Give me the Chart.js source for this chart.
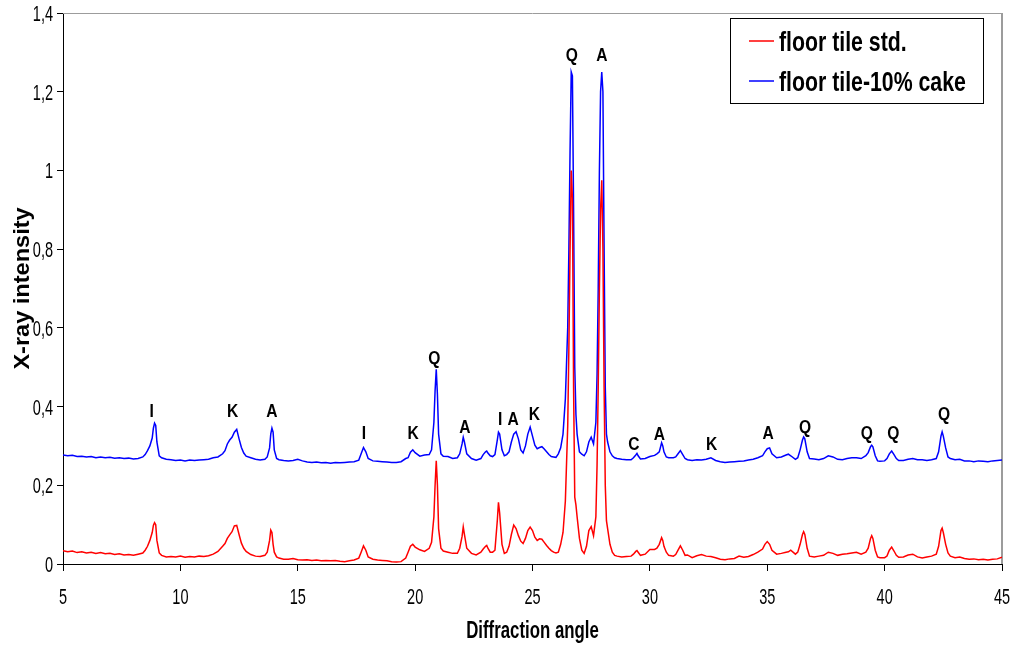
<!DOCTYPE html>
<html>
<head>
<meta charset="utf-8">
<title>XRD floor tile</title>
<script src="https://cdn.jsdelivr.net/npm/chart.js@4.4.1/dist/chart.umd.min.js"></script>
<style>
  html, body { margin: 0; padding: 0; background: #fff; }
  canvas { display: block; }
</style>
</head>
<body>
<canvas id="xrdChart" width="1016" height="651"></canvas>
<script>
// diffraction angle (2 theta), shared by both patterns
const angles = [
  5.0, 5.2, 5.4, 5.6, 5.8, 6.0, 6.2, 6.4, 6.6, 6.8, 7.0, 7.2, 7.4, 7.6, 7.8, 8.0, 8.2, 8.4,
  8.5, 8.6, 8.7, 8.8, 8.85, 8.9, 8.95, 9.0, 9.1, 9.2, 9.4,
  9.6, 9.8, 10.0, 10.2, 10.4, 10.6, 10.8, 11.0, 11.2, 11.4,
  11.6, 11.8, 11.9, 12.0, 12.1, 12.2, 12.3, 12.4, 12.5, 12.6, 12.7, 12.8, 13.0, 13.2, 13.4, 13.6,
  13.7, 13.8, 13.85, 13.9, 13.95, 14.0, 14.1, 14.2, 14.4,
  14.6, 14.8, 15.0, 15.2, 15.4, 15.6, 15.8, 16.0, 16.2, 16.4, 16.6, 16.8, 17.0, 17.2, 17.4,
  17.6, 17.7, 17.8, 17.9, 18.0, 18.2, 18.4,
  18.6, 18.8, 19.0, 19.2, 19.4, 19.6,
  19.7, 19.8, 19.9, 20.0, 20.2, 20.4, 20.6, 20.7, 20.8, 20.85, 20.9, 20.95, 21.0, 21.1, 21.2, 21.4,
  21.6, 21.8, 21.9, 22.0, 22.05, 22.1, 22.2, 22.4, 22.6, 22.8, 22.9, 23.0, 23.05, 23.1, 23.2, 23.3, 23.4, 23.5, 23.55, 23.6, 23.7, 23.8,
  23.9, 24.0, 24.1, 24.2, 24.3, 24.4, 24.5, 24.6, 24.7, 24.8, 24.9, 25.0, 25.1, 25.2, 25.3, 25.4, 25.5, 25.6, 25.7, 25.8, 25.9, 26.0,
  26.1, 26.2, 26.3, 26.4, 26.5, 26.55, 26.6, 26.65, 26.7, 26.75, 26.8, 26.85, 26.9, 27.0, 27.1, 27.2, 27.3, 27.4,
  27.5, 27.6, 27.7, 27.75, 27.8, 27.85, 27.9, 27.95, 28.0, 28.05, 28.1, 28.15, 28.2, 28.3, 28.4, 28.5, 28.6, 28.8,
  29.0, 29.2, 29.3, 29.4, 29.45, 29.5, 29.6, 29.8, 30.0, 30.2, 30.3, 30.4, 30.5, 30.55, 30.6, 30.7, 30.8, 31.0, 31.1, 31.2, 31.3, 31.4, 31.5, 31.6, 31.8,
  32.0, 32.2, 32.4, 32.6, 32.8, 33.0, 33.2, 33.4, 33.6, 33.8, 34.0, 34.2, 34.4,
  34.6, 34.8, 34.9, 35.0, 35.1, 35.2, 35.4, 35.6, 35.8, 35.9, 36.0, 36.2, 36.3, 36.4, 36.5, 36.55, 36.6, 36.7, 36.8, 37.0,
  37.2, 37.4, 37.6, 37.8, 38.0, 38.2, 38.4, 38.6, 38.8, 39.0, 39.2,
  39.3, 39.4, 39.45, 39.5, 39.6, 39.7, 39.8, 40.0, 40.1, 40.2, 40.3, 40.4, 40.5, 40.6,
  40.8, 41.0, 41.2, 41.4, 41.6, 41.8, 42.0, 42.2,
  42.3, 42.4, 42.45, 42.5, 42.6, 42.7, 42.8, 43.0, 43.2, 43.4, 43.6, 43.8, 44.0, 44.2, 44.4, 44.6, 44.8, 45.0
];

// floor tile std.
const stdIntensity = [
  0.034, 0.031, 0.033, 0.029, 0.031, 0.028, 0.030, 0.027, 0.029, 0.026, 0.027, 0.024, 0.026, 0.023, 0.024, 0.022, 0.025, 0.028,
  0.035, 0.045, 0.06, 0.08, 0.098, 0.105, 0.10, 0.06, 0.028, 0.022, 0.018,
  0.019, 0.018, 0.020, 0.017, 0.019, 0.018, 0.020, 0.019, 0.021, 0.025,
  0.032, 0.045, 0.052, 0.065, 0.074, 0.082, 0.097, 0.098, 0.075, 0.053, 0.04, 0.032, 0.024, 0.02, 0.019, 0.022,
  0.03, 0.06, 0.086, 0.08, 0.05, 0.03, 0.018, 0.015, 0.012,
  0.012, 0.014, 0.011, 0.010, 0.011, 0.009, 0.010, 0.008, 0.009, 0.008, 0.009, 0.007, 0.006, 0.008, 0.010,
  0.015, 0.03, 0.046, 0.035, 0.018, 0.012, 0.01,
  0.009, 0.008, 0.006, 0.005, 0.006, 0.015,
  0.03, 0.045, 0.05, 0.043, 0.036, 0.032, 0.04, 0.055, 0.12, 0.2, 0.262, 0.2, 0.09, 0.04, 0.033, 0.03,
  0.027, 0.027, 0.04, 0.07, 0.094, 0.075, 0.04, 0.027, 0.023, 0.03, 0.038, 0.045, 0.047, 0.04, 0.03, 0.03, 0.035, 0.11, 0.157, 0.13, 0.05, 0.027,
  0.03, 0.045, 0.075, 0.099, 0.09, 0.072, 0.058, 0.052, 0.065, 0.085, 0.094, 0.085, 0.068, 0.06, 0.064, 0.063, 0.055, 0.047, 0.04, 0.034, 0.03, 0.028,
  0.03, 0.05, 0.08, 0.16, 0.35, 0.55, 0.8, 1.0, 0.93, 0.45, 0.17, 0.15, 0.12, 0.065, 0.035, 0.027, 0.045, 0.085,
  0.095, 0.072, 0.12, 0.25, 0.45, 0.7, 0.9, 0.975, 0.8, 0.45, 0.2, 0.11, 0.09, 0.05, 0.03, 0.022, 0.02, 0.018,
  0.019, 0.02, 0.025, 0.032, 0.034, 0.03, 0.022, 0.025, 0.037, 0.037, 0.04, 0.05, 0.067, 0.06, 0.045, 0.03, 0.022, 0.02, 0.024, 0.035, 0.046, 0.035, 0.022, 0.023, 0.016,
  0.021, 0.024, 0.02, 0.019, 0.016, 0.012, 0.011, 0.013, 0.014, 0.02, 0.017, 0.019, 0.024,
  0.03, 0.038, 0.05, 0.057, 0.05, 0.035, 0.025, 0.027, 0.03, 0.031, 0.035, 0.025, 0.03, 0.05, 0.075, 0.082, 0.075, 0.04, 0.02, 0.018,
  0.02, 0.022, 0.03, 0.027, 0.022, 0.025, 0.026, 0.028, 0.03, 0.025, 0.03,
  0.04, 0.065, 0.072, 0.065, 0.035, 0.018, 0.016, 0.016, 0.02, 0.035, 0.043, 0.033, 0.022, 0.017,
  0.018, 0.023, 0.025, 0.018, 0.015, 0.018, 0.02, 0.025,
  0.045, 0.085, 0.091, 0.08, 0.05, 0.028, 0.02, 0.016, 0.018, 0.014, 0.012, 0.013, 0.011, 0.012, 0.01, 0.012, 0.013, 0.017
];

// floor tile-10% cake
const cakeIntensity = [
  0.277, 0.275, 0.276, 0.273, 0.274, 0.272, 0.273, 0.270, 0.272, 0.270, 0.271, 0.269, 0.270, 0.268, 0.269, 0.267, 0.268, 0.272,
  0.278, 0.288, 0.30, 0.32, 0.345, 0.358, 0.352, 0.31, 0.275, 0.27, 0.266,
  0.265, 0.263, 0.264, 0.262, 0.264, 0.263, 0.264, 0.265, 0.266, 0.270,
  0.272, 0.28, 0.288, 0.305, 0.315, 0.322, 0.335, 0.342, 0.318, 0.296, 0.282, 0.274, 0.27, 0.266, 0.264, 0.266,
  0.272, 0.295, 0.33, 0.345, 0.335, 0.29, 0.268, 0.265, 0.263,
  0.262, 0.263, 0.266, 0.262, 0.259, 0.258, 0.259, 0.257, 0.258, 0.256, 0.258, 0.257, 0.258, 0.259, 0.260,
  0.264, 0.28, 0.296, 0.285, 0.268, 0.262, 0.261,
  0.26, 0.259, 0.258, 0.258, 0.26, 0.268,
  0.27, 0.284, 0.29, 0.283, 0.274, 0.277, 0.278, 0.29, 0.36, 0.44, 0.495, 0.43, 0.33, 0.28, 0.274, 0.273,
  0.268, 0.27, 0.28, 0.305, 0.322, 0.31, 0.28, 0.268, 0.264, 0.268, 0.278, 0.285, 0.287, 0.282, 0.275, 0.273, 0.278, 0.315, 0.335, 0.33, 0.29, 0.275,
  0.278, 0.285, 0.31, 0.33, 0.336, 0.318, 0.29, 0.282, 0.3, 0.33, 0.348, 0.325, 0.302, 0.293, 0.296, 0.298, 0.292, 0.285, 0.278, 0.273, 0.272, 0.271,
  0.28, 0.295, 0.33, 0.42, 0.6, 0.8, 1.05, 1.25, 1.24, 0.9, 0.5, 0.38, 0.33, 0.285, 0.279, 0.275, 0.285, 0.31,
  0.322, 0.305, 0.36, 0.48, 0.7, 1.0, 1.2, 1.25, 1.2, 0.8, 0.45, 0.33, 0.31, 0.285, 0.275, 0.27, 0.268, 0.266,
  0.265, 0.265, 0.27, 0.277, 0.281, 0.275, 0.267, 0.268, 0.273, 0.276, 0.28, 0.285, 0.308, 0.3, 0.285, 0.272, 0.27, 0.27, 0.272, 0.28, 0.288, 0.278, 0.268, 0.265, 0.263,
  0.265, 0.264, 0.266, 0.27, 0.263, 0.26, 0.258, 0.259, 0.26, 0.261, 0.262, 0.264, 0.266,
  0.27, 0.275, 0.285, 0.293, 0.295, 0.28, 0.27, 0.272, 0.277, 0.279, 0.275, 0.266, 0.27, 0.29, 0.315, 0.323, 0.318, 0.285, 0.268, 0.267,
  0.265, 0.268, 0.275, 0.272, 0.266, 0.265, 0.268, 0.27, 0.27, 0.268, 0.275,
  0.283, 0.298, 0.302, 0.298, 0.275, 0.262, 0.261, 0.262, 0.268, 0.28, 0.287, 0.278, 0.268, 0.263,
  0.263, 0.266, 0.268, 0.265, 0.265, 0.263, 0.265, 0.268,
  0.285, 0.325, 0.336, 0.325, 0.295, 0.272, 0.268, 0.265, 0.266, 0.262, 0.262, 0.26, 0.262, 0.261, 0.26, 0.262, 0.263, 0.264
];

const xTicks = [5, 10, 15, 20, 25, 30, 35, 40, 45];
const yTicks = [0, 0.2, 0.4, 0.6, 0.8, 1, 1.2, 1.4];

// phase letters over the peaks (I, K, A, Q, C)
const peakNames  = ['I', 'K', 'A', 'I', 'K', 'Q', 'A', 'I', 'A', 'K', 'Q', 'A', 'C', 'A', 'K', 'A', 'Q', 'Q', 'Q', 'Q'];
const peakAngles = [8.78, 12.23, 13.9, 17.82, 19.92, 20.82, 22.12, 23.62, 24.18, 25.08, 26.67, 27.95, 29.32, 30.4, 32.63, 35.04, 36.61, 39.24, 40.37, 42.53];
const peakLevels = [0.391, 0.391, 0.391, 0.336, 0.335, 0.525, 0.351, 0.372, 0.37, 0.384, 1.296, 1.296, 0.308, 0.334, 0.308, 0.336, 0.351, 0.336, 0.336, 0.383];

const seriesNames  = ['floor tile std.', 'floor tile-10% cake'];
const seriesColors = ['#ff0000', '#0000ff'];

if (angles.length !== stdIntensity.length || angles.length !== cakeIntensity.length) {
  console.error('length mismatch', angles.length, stdIntensity.length, cakeIntensity.length);
}

const FONT = '"Liberation Sans", Arial, Helvetica, sans-serif';

// the original figure uses tall, squeezed lettering, so text is drawn with a horizontal scale
function drawText(ctx, text, x, y, o) {
  ctx.save();
  ctx.translate(x, y);
  if (o.rotate) ctx.rotate(o.rotate);
  ctx.scale(o.sx || 1, o.sy || 1);
  ctx.font = (o.bold ? 'bold ' : '') + o.size + 'px ' + FONT;
  ctx.fillStyle = '#000';
  ctx.textAlign = o.align || 'center';
  ctx.textBaseline = 'alphabetic';
  ctx.fillText(text, 0, 0);
  ctx.restore();
}

function fmt(v) {
  return String(Math.round(v * 10) / 10).replace('.', ',');
}

const decorPlugin = {
  id: 'xrdDecor',
  beforeDatasetsDraw(chart) {
    const ctx = chart.ctx, a = chart.chartArea;
    // light frame on top and right side
    ctx.save();
    ctx.strokeStyle = '#9c9c9c';
    ctx.lineWidth = 1;
    ctx.beginPath();
    ctx.moveTo(a.left, a.top + 0.5);
    ctx.lineTo(a.right, a.top + 0.5);
    ctx.stroke();
    ctx.lineWidth = 2;
    ctx.beginPath();
    ctx.moveTo(a.right, a.top);
    ctx.lineTo(a.right, a.bottom);
    ctx.stroke();
    ctx.restore();
  },
  afterDraw(chart) {
    const ctx = chart.ctx, xs = chart.scales.x, ys = chart.scales.y, a = chart.chartArea;

    xs.ticks.forEach(t => {
      drawText(ctx, fmt(t.value), xs.getPixelForValue(t.value), a.bottom + 40, { size: 22, sx: 0.66 });
    });
    ys.ticks.forEach(t => {
      drawText(ctx, fmt(t.value), a.left - 10, ys.getPixelForValue(t.value) + 8, { size: 22, sx: 0.66, align: 'right' });
    });

    drawText(ctx, 'Diffraction angle', (a.left + a.right) / 2, 638, { size: 24, bold: true, sx: 0.7 });
    drawText(ctx, 'X-ray intensity', 29, (a.top + a.bottom) / 2, { size: 22, bold: true, sx: 1.07, rotate: -Math.PI / 2 });

    peakNames.forEach((name, i) => {
      drawText(ctx, name, xs.getPixelForValue(peakAngles[i]), ys.getPixelForValue(peakLevels[i]) + 7, { size: 19, bold: true, sx: 0.82 });
    });

    // legend box
    ctx.save();
    ctx.fillStyle = '#fff';
    ctx.fillRect(730, 18, 253, 85);
    ctx.strokeStyle = '#000';
    ctx.lineWidth = 1;
    ctx.strokeRect(730.5, 18.5, 253, 85);
    seriesNames.forEach((name, i) => {
      const y = 41 + i * 40;
      ctx.strokeStyle = seriesColors[i];
      ctx.lineWidth = 1.5;
      ctx.beginPath();
      ctx.moveTo(749, y);
      ctx.lineTo(774, y);
      ctx.stroke();
      drawText(ctx, name, 779, y + 10, { size: 28, bold: true, sx: 0.76, align: 'left' });
    });
    ctx.restore();
  }
};

function tickList(list) {
  return scale => { scale.ticks = list.map(v => ({ value: v })); };
}

const ctx = document.getElementById('xrdChart').getContext('2d');
const xrdChart = new Chart(ctx, {
  type: 'line',
  data: {
    datasets: [
      {
        label: seriesNames[0],
        data: angles.map((x, i) => ({ x: x, y: stdIntensity[i] })),
        borderColor: seriesColors[0],
        borderWidth: 1.5,
        pointRadius: 0,
        tension: 0,
        fill: false
      },
      {
        label: seriesNames[1],
        data: angles.map((x, i) => ({ x: x, y: cakeIntensity[i] })),
        borderColor: seriesColors[1],
        borderWidth: 1.5,
        pointRadius: 0,
        tension: 0,
        fill: false
      }
    ]
  },
  options: {
    responsive: false,
    animation: false,
    devicePixelRatio: 1,
    layout: { padding: { top: 13, right: 14, left: 0, bottom: 0 } },
    plugins: {
      legend: { display: false },
      tooltip: { enabled: false }
    },
    scales: {
      x: {
        type: 'linear',
        min: 5,
        max: 45,
        afterBuildTicks: tickList(xTicks),
        afterFit: s => { s.height = 87; },
        border: { display: true, color: '#000', width: 1 },
        grid: { drawOnChartArea: false, drawTicks: true, tickLength: 7, color: '#000' },
        ticks: { display: false }
      },
      y: {
        type: 'linear',
        min: 0,
        max: 1.4,
        afterBuildTicks: tickList(yTicks),
        afterFit: s => { s.width = 63; },
        border: { display: true, color: '#000', width: 1 },
        grid: { drawOnChartArea: false, drawTicks: true, tickLength: 6, color: '#000' },
        ticks: { display: false }
      }
    }
  },
  plugins: [decorPlugin]
});
</script>
</body>
</html>
